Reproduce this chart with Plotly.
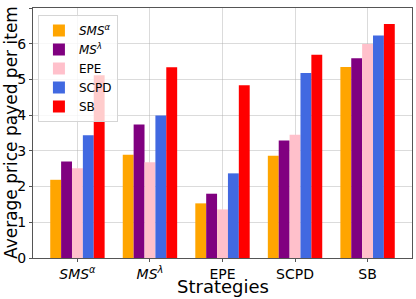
import plotly.graph_objects as go

categories = ["<i>SMS</i><sup><i>α</i></sup>", "<i>MS</i><sup><i>λ</i></sup>", "EPE", "SCPD", "SB"]
series_names = ["<i>SMS</i><sup><i>α</i></sup>", "<i>MS</i><sup><i>λ</i></sup>", "EPE", "SCPD", "SB"]
sms_alpha = [2.19, 2.89, 1.53, 2.86, 5.35]
ms_lambda = [2.70, 3.74, 1.80, 3.29, 5.59]
epe = [2.51, 2.68, 1.36, 3.45, 5.99]
scpd = [3.44, 3.99, 2.37, 5.18, 6.23]
sb = [5.12, 5.34, 4.84, 5.69, 6.55]
y_ticks = [0, 1, 2, 3, 4, 5, 6, 7]
x_title = "Strategies"
y_title = "Average price payed per item"

colors = ["#FFA500", "#800080", "#FFC0CB", "#4169E1", "#FF0000"]
all_series = [sms_alpha, ms_lambda, epe, scpd, sb]
offsets = [-0.375, -0.225, -0.075, 0.075, 0.225]

fig = go.Figure()
xs = list(range(len(categories)))
for name, vals, col, off in zip(series_names, all_series, colors, offsets):
    fig.add_trace(go.Bar(x=xs, y=vals, name=name, marker=dict(color=col, line=dict(width=0)),
                         width=0.15, offset=off))

grid = "rgba(176,176,176,0.45)"
fig.update_layout(
    width=416, height=299,
    margin=dict(l=33, r=4, t=8, b=41, autoexpand=False),
    plot_bgcolor="white", paper_bgcolor="white",
    font=dict(family="DejaVu Sans", size=14, color="black"),
    barmode="overlay",
    showlegend=True,
    legend=dict(x=0.013, y=0.972, xanchor="left", yanchor="top",
                bgcolor="rgba(255,255,255,0.8)", bordercolor="#d5d5d5", borderwidth=1,
                font=dict(size=12), itemwidth=30, tracegroupgap=0),
    xaxis=dict(range=[-0.6125, 4.6125], tickmode="array", tickvals=xs, ticktext=categories,
               showgrid=True, gridcolor=grid, gridwidth=1, automargin=False,
               showline=True, linecolor="#555555", linewidth=1, mirror=True,
               ticks="outside", ticklen=3, tickcolor="#555555",
               layer="above traces", tickfont=dict(size=14)),
    yaxis=dict(range=[0, 7], tickmode="array", tickvals=y_ticks,
               showgrid=True, gridcolor=grid, gridwidth=1, automargin=False,
               showline=True, linecolor="#555555", linewidth=1, mirror=True,
               ticks="outside", ticklen=3, tickcolor="#555555", ticklabelstandoff=0,
               layer="above traces", tickfont=dict(size=14), zeroline=False),
    annotations=[
        dict(text=x_title, xref="paper", yref="paper", x=0.5, y=0, yshift=-28,
             xanchor="center", yanchor="middle", showarrow=False, font=dict(size=18)),
        dict(text=y_title, xref="paper", yref="paper", x=0, y=0.5, xshift=-22,
             xanchor="center", yanchor="middle", textangle=-90, showarrow=False,
             font=dict(size=17)),
    ],
)

fig.write_html("out.html", config={"displayModeBar": False},
               post_script="document.body.style.margin='0';")
